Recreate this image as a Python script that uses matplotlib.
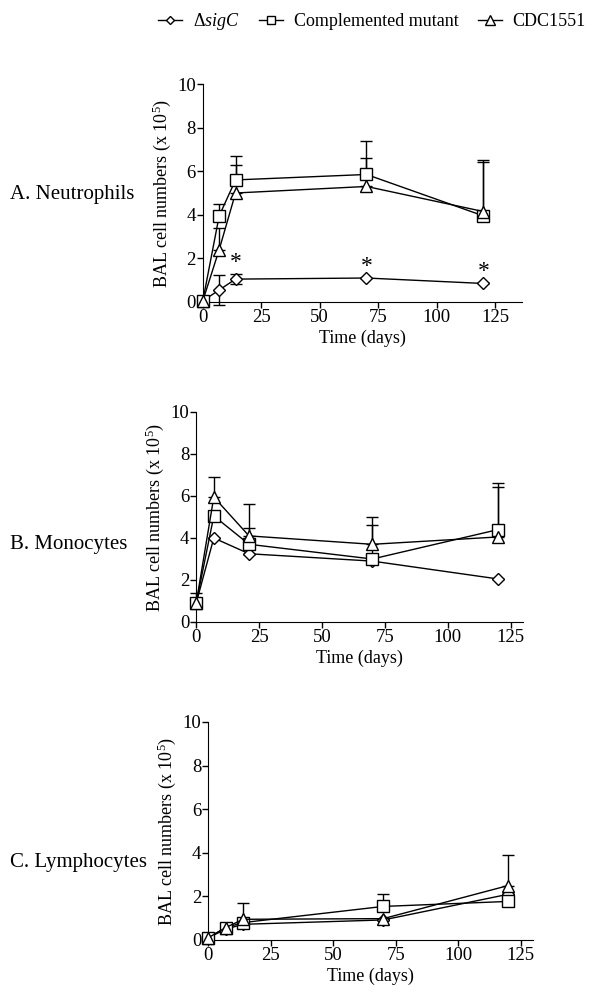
import numpy as np
import matplotlib
matplotlib.use('Agg')
import matplotlib.pyplot as plt
from matplotlib.lines import Line2D

plt.rcParams['font.family'] = ['Liberation Serif', 'DejaVu Serif']
plt.rcParams['mathtext.fontset'] = 'custom'
plt.rcParams['mathtext.rm'] = 'Liberation Serif'
plt.rcParams['mathtext.it'] = 'Liberation Serif:italic'

series_names = ['Δ$\\it{sigC}$', 'Complemented mutant', 'CDC1551']

# A. Neutrophils
days_a = [0, 7, 14, 70, 120]
sigc_a = [0.05, 0.55, 1.05, 1.1, 0.85]
sigc_a_err = [0.0, 0.7, 0.22, 0.0, 0.0]
comp_a = [0.05, 3.95, 5.6, 5.85, 3.95]
comp_a_err = [0.0, 0.55, 1.1, 1.55, 2.55]
cdc_a = [0.05, 2.4, 5.0, 5.3, 4.15]
cdc_a_err = [0.0, 1.0, 1.3, 1.3, 2.25]
star_days_a = [14, 70, 120]
star_vals_a = [1.27, 1.1, 0.85]

# B. Monocytes
days_b = [0, 7, 21, 70, 120]
sigc_b = [0.9, 4.0, 3.25, 2.9, 2.05]
sigc_b_err = [0.0, 0.0, 0.0, 0.0, 0.0]
comp_b = [0.9, 5.05, 3.7, 3.0, 4.4]
comp_b_err = [0.0, 0.0, 0.8, 1.6, 2.2]
cdc_b = [0.9, 5.95, 4.1, 3.7, 4.05]
cdc_b_err = [0.5, 0.95, 1.5, 1.3, 2.4]

# C. Lymphocytes
days_c = [0, 7, 14, 70, 120]
sigc_c = [0.1, 0.5, 0.72, 0.92, 2.1]
sigc_c_err = [0.0, 0.0, 0.0, 0.0, 0.0]
comp_c = [0.1, 0.57, 0.8, 1.54, 1.77]
comp_c_err = [0.0, 0.0, 0.0, 0.55, 0.0]
cdc_c = [0.1, 0.57, 0.95, 0.98, 2.5]
cdc_c_err = [0.0, 0.0, 0.75, 0.0, 1.4]

panels = [
    ('A. Neutrophils', days_a, [(sigc_a, sigc_a_err, True), (comp_a, comp_a_err, False), (cdc_a, cdc_a_err, False)], 136.5,
     [0.338, 0.698, 0.532, 0.218], 0.805),
    ('B. Monocytes', days_b, [(sigc_b, sigc_b_err, False), (comp_b, comp_b_err, False), (cdc_b, cdc_b_err, False)], 130,
     [0.327, 0.378, 0.545, 0.210], 0.455),
    ('C. Lymphocytes', days_c, [(sigc_c, sigc_c_err, False), (comp_c, comp_c_err, False), (cdc_c, cdc_c_err, False)], 130,
     [0.347, 0.060, 0.542, 0.218], 0.138),
]

markers = [('D', 6), ('s', 8), ('^', 9)]

fig = plt.figure(figsize=(6, 10), dpi=100)

for title, days, groups, xmax, pos, ty in panels:
    ax = fig.add_axes(pos)
    for (vals, err, both), (mk, ms) in zip(groups, markers):
        err = np.array(err)
        lower = err if both else np.zeros_like(err)
        ax.errorbar(days, vals, yerr=[lower, err], fmt='none', ecolor='black',
                    elinewidth=1, capsize=4.5, capthick=1, clip_on=False, zorder=2)
        ax.plot(days, vals, color='black', lw=1, marker=mk, ms=ms, mfc='white',
                mec='black', mew=1, clip_on=False, zorder=3)
    ax.set_xlim(0, xmax)
    ax.set_ylim(0, 10)
    ax.set_xticks([0, 25, 50, 75, 100, 125])
    ax.set_yticks([0, 2, 4, 6, 8, 10])
    for s in ['top', 'right']:
        ax.spines[s].set_visible(False)
    ax.tick_params(direction='out', length=4, width=1, labelsize=13.5, pad=1)
    ax.set_xlabel('Time (days)', fontsize=13, labelpad=3)
    ax.set_ylabel('BAL cell numbers (x 10$^5$)', fontsize=13, labelpad=3)
    fig.text(0.016, ty, title, fontsize=15, va='center', ha='left')
    if title.startswith('A'):
        for d, v in zip(star_days_a, star_vals_a):
            ax.annotate('*', (d, v), xytext=(0, 1), textcoords='offset points',
                        ha='center', va='bottom', fontsize=17)

handles = [Line2D([], [], color='black', lw=1, marker=mk, ms=ms * 0.75, mfc='white', mec='black')
           for mk, ms in markers]
fig.legend(handles, series_names, loc='upper center', bbox_to_anchor=(0.62, 1.005), ncol=3,
           frameon=False, fontsize=13, handlelength=1.3, columnspacing=1.1, handletextpad=0.6)

fig.savefig('out.png', dpi=100)
